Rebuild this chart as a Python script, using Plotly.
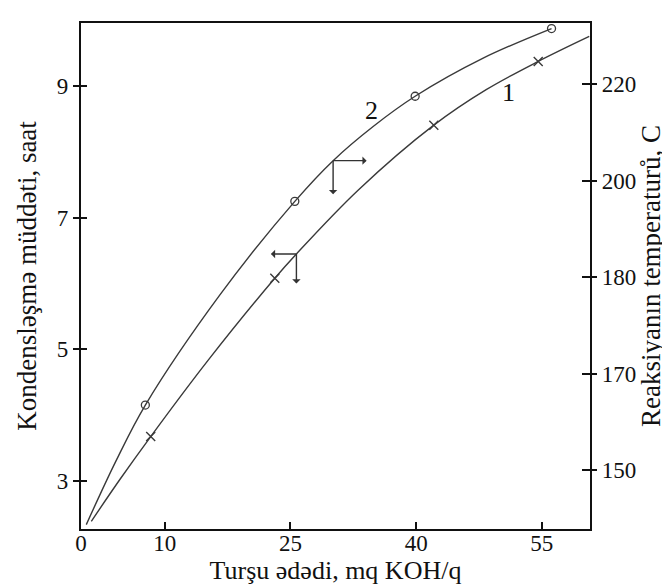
import plotly.graph_objects as go

# ---- tick labels ----
x_ticks = [0, 10, 25, 40, 55]
y_ticks = [3, 5, 7, 9]
temp_ticks = ["150", "170", "180", "200", "220"]

# ---- curve 1 (x markers): points ----
c1_x = [1.23, 4.66, 8.32, 15.16, 23.13, 25.71, 33.07, 42.11, 48.36, 54.57, 60.66]
c1_y = [2.38, 3.02, 3.67, 4.83, 6.08, 6.45, 7.42, 8.41, 8.95, 9.38, 9.76]
c1_mark_x = [8.32, 23.13, 42.11, 54.57]
c1_mark_y = [3.67, 6.08, 8.41, 9.38]

# ---- curve 2 (circle markers) ----
c2_x = [0.63, 4.18, 7.68, 16.60, 25.52, 30.09, 34.87, 39.88, 48.0, 56.16]
c2_y = [2.33, 3.30, 4.15, 5.83, 7.25, 7.87, 8.39, 8.85, 9.43, 9.88]
c2_mark_x = [7.68, 25.52, 39.88, 56.16]
c2_mark_y = [4.15, 7.25, 8.85, 9.88]

FONT = "Liberation Serif, Times New Roman, serif"
INK = "#111111"
CURVE = "#3a3a3a"

fig = go.Figure()
fig.add_trace(go.Scatter(x=c1_x, y=c1_y, mode="lines",
                         line=dict(color=CURVE, width=1.4, shape="spline", smoothing=1.0),
                         showlegend=False, hoverinfo="skip"))
fig.add_trace(go.Scatter(x=c2_x, y=c2_y, mode="lines",
                         line=dict(color=CURVE, width=1.4, shape="spline", smoothing=1.0),
                         showlegend=False, hoverinfo="skip"))
fig.add_trace(go.Scatter(x=c1_mark_x, y=c1_mark_y, mode="markers",
                         marker=dict(symbol="x-thin", size=9, line=dict(color=CURVE, width=1.4)),
                         showlegend=False))
fig.add_trace(go.Scatter(x=c2_mark_x, y=c2_mark_y, mode="markers",
                         marker=dict(symbol="circle-open", size=8, color=CURVE,
                                     line=dict(color=CURVE, width=1.3)),
                         showlegend=False))
for ax in ["y2", "y3", "y4"]:
    fig.add_trace(go.Scatter(x=[None], y=[None], yaxis=ax, showlegend=False, hoverinfo="skip"))

def arrow(x, y, dx, dy):
    return dict(x=x, y=y, xref="x", yref="y", ax=dx, ay=dy, axref="pixel", ayref="pixel",
                text="", showarrow=True, arrowside="start", arrowhead=2, arrowsize=1.1,
                arrowwidth=1.4, arrowcolor="#333333")

annotations = [
    arrow(c2_x[5], c2_y[5], 35, 0),
    arrow(c2_x[5], c2_y[5], 0, 35),
    arrow(c1_x[5], c1_y[5], -27, 0),
    arrow(c1_x[5], c1_y[5], 0, 31),
    dict(x=50.99, y=8.90, xref="x", yref="y", text="1", showarrow=False,
         font=dict(family=FONT, size=26, color=INK)),
    dict(x=34.63, y=8.63, xref="x", yref="y", text="2", showarrow=False,
         font=dict(family=FONT, size=26, color=INK)),
]

tickfont = dict(family=FONT, size=23, color=INK)
titlefont = dict(family=FONT, size=27, color=INK)
xtitlefont = dict(family=FONT, size=26, color=INK)
yr = [2.263, 9.965]
y2r = [-0.609, 4.634]

fig.update_layout(
    width=670, height=585,
    margin=dict(l=73, r=88, t=15, b=64),
    paper_bgcolor="white", plot_bgcolor="white",
    annotations=annotations,
    xaxis=dict(range=[0, 60.75], tickmode="array", tickvals=x_ticks, ticks="inside", ticklen=7,
               tickwidth=1.5, tickcolor=INK, showline=True, linecolor=INK, linewidth=2.4, mirror=True,
               showgrid=False, zeroline=False, tickfont=tickfont, ticklabelstandoff=-8,
               title=dict(text="Turşu ədədi, mq KOH/q", font=xtitlefont, standoff=0)),
    yaxis=dict(range=yr, tickmode="array", tickvals=y_ticks, ticks="outside", ticklen=6,
               tickwidth=1.5, tickcolor=INK, showline=True, linecolor=INK, linewidth=2.4,
               showgrid=False, zeroline=False, tickfont=tickfont,
               title=dict(text="Kondensləşmə müddəti, saat", font=titlefont, standoff=12)),
    yaxis3=dict(range=yr, overlaying="y", side="left", anchor="x", tickmode="array", tickvals=y_ticks,
                ticks="inside", ticklen=6, tickwidth=1.5, tickcolor=INK, showticklabels=False,
                showline=False, showgrid=False, zeroline=False),
    yaxis2=dict(range=y2r, overlaying="y", side="right", anchor="x", tickmode="array",
                tickvals=list(range(len(temp_ticks))), ticktext=temp_ticks, ticks="outside", ticklen=5,
                tickwidth=1.5, tickcolor=INK, showline=True, linecolor=INK, linewidth=2.4,
                showgrid=False, zeroline=False, tickfont=tickfont,
                title=dict(text="Reaksiyanın temperaturů, C", font=titlefont, standoff=4)),
    yaxis4=dict(range=y2r, overlaying="y", side="right", anchor="x", tickmode="array",
                tickvals=list(range(len(temp_ticks))), ticks="inside", ticklen=8, tickwidth=1.5,
                tickcolor=INK, showticklabels=False, showline=False, showgrid=False, zeroline=False),
)

fig.write_html("out.html")
